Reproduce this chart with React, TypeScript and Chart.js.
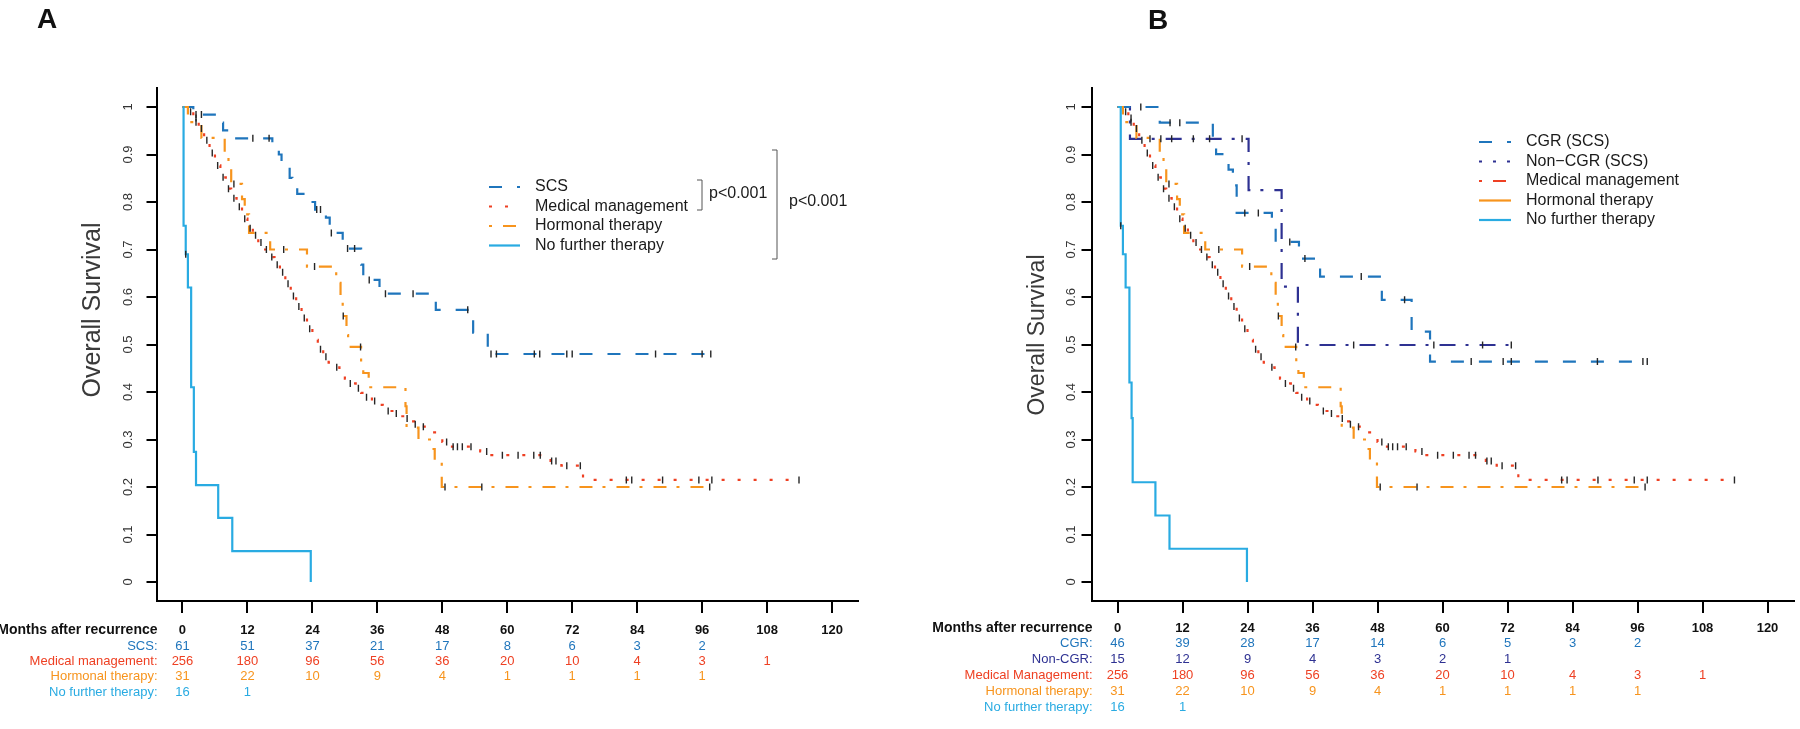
import React, { useEffect, useRef } from "react";
import { Chart, registerables } from "chart.js";

Chart.register(...registerables);

const FONT = '"Liberation Sans", Arial, Helvetica, sans-serif';

// ---------------- axes ----------------
const xTickValues = [0, 12, 24, 36, 48, 60, 72, 84, 96, 108, 120];
const xTickLabels = ["0", "12", "24", "36", "48", "60", "72", "84", "96", "108", "120"];
const yTickValues = [0, 0.1, 0.2, 0.3, 0.4, 0.5, 0.6, 0.7, 0.8, 0.9, 1];
const yTickLabels = ["0", "0.1", "0.2", "0.3", "0.4", "0.5", "0.6", "0.7", "0.8", "0.9", "1"];
const riskTimes = [0, 12, 24, 36, 48, 60, 72, 84, 96, 108];

// ---------------- Panel A : SCS ----------------
const scsTimes = [0, 2, 6.8, 7.5, 9.5, 16.6, 17.8, 18.3, 19.8, 20.3, 21.2, 23.5, 24.5, 26.5, 27.2, 29.6, 33, 33.4, 36.4, 46.8, 53.7, 56.4];
const scsSurv = [1, 0.984, 0.967, 0.951, 0.934, 0.917, 0.9, 0.884, 0.851, 0.834, 0.817, 0.8, 0.784, 0.767, 0.735, 0.702, 0.668, 0.636, 0.607, 0.573, 0.525, 0.48];
const scsLast = 97.8;
const scsCensored = [2.5, 3.5, 13, 16, 24.8, 25.5, 27.5, 30.5, 31.8, 34.5, 37.5, 42.6, 52.7, 57, 58, 65, 66, 71, 72, 87.4, 96, 97.6];

// ---------------- Medical management (both panels) ----------------
const medTimes = [0, 1, 2, 3, 4, 5, 6, 7, 8, 9, 10, 11, 12, 13, 14, 15, 16, 17, 18, 19, 20, 21, 22, 23, 24, 25, 26, 27, 28, 29, 30, 31, 32, 33, 34, 35, 36, 37, 38, 39, 40, 41, 42, 43, 44, 45, 46, 47, 48, 49, 55, 56.5, 68, 70, 74];
const medSurv = [1, 0.99, 0.977, 0.955, 0.93, 0.903, 0.877, 0.852, 0.828, 0.808, 0.79, 0.765, 0.745, 0.73, 0.715, 0.7, 0.684, 0.668, 0.652, 0.628, 0.602, 0.58, 0.556, 0.533, 0.51, 0.49, 0.474, 0.462, 0.452, 0.443, 0.428, 0.418, 0.408, 0.398, 0.389, 0.381, 0.373, 0.366, 0.36, 0.355, 0.349, 0.344, 0.338, 0.332, 0.327, 0.321, 0.315, 0.305, 0.295, 0.285, 0.275, 0.267, 0.255, 0.245, 0.215];
const medLast = 113.9;
const medCensored = [1.5, 2.5, 3.5, 4.5, 5.5, 6.5, 7.5, 8.5, 9.5, 10.5, 11.5, 12.5, 13.5, 14.5, 15.5, 16.5, 17.5, 18.5, 19.5, 20.5, 21.5, 22.5, 23.5, 25.5, 26.5, 28.5, 31, 32.5, 34, 35.5, 38, 39.5, 41.5, 43, 44.5, 48.8, 50, 50.8, 51.7, 53.3, 56.2, 59.1, 62, 64.9, 66.1, 68.2, 69, 71, 73.5, 82, 83, 88.7, 95.4, 97.8, 113.9];

// ---------------- Hormonal therapy (both panels) ----------------
const hormTimes = [0, 1, 3.5, 7.8, 8.5, 9, 11, 11.5, 12.3, 16.2, 23, 28.4, 29.2, 29.6, 30.3, 30.6, 33, 33.4, 34.4, 41.2, 41.4, 43.6, 46, 46.6, 47.9];
const hormSurv = [1, 0.968, 0.935, 0.903, 0.871, 0.838, 0.806, 0.774, 0.735, 0.7, 0.664, 0.63, 0.597, 0.56, 0.52, 0.495, 0.457, 0.44, 0.41, 0.37, 0.325, 0.3, 0.28, 0.255, 0.2];
const hormLast = 97.5;
const hormCensored = [2.5, 9.5, 18.7, 24.4, 29.7, 32.9, 48.5, 55.3, 97.4];

// ---------------- No further therapy ----------------
const noFurtherTimesA = [0, 0.2, 0.6, 1.0, 1.6, 2.1, 2.5, 6.6, 9.2, 23.7];
const noFurtherSurvA = [1, 0.75, 0.69, 0.62, 0.41, 0.274, 0.204, 0.135, 0.065, 0];
const noFurtherTimesB = [0, 0.6, 1.0, 1.5, 2.2, 2.6, 2.8, 7.0, 9.6, 23.9];
const noFurtherSurvB = [1, 0.75, 0.69, 0.62, 0.42, 0.345, 0.21, 0.14, 0.07, 0];
const noFurtherCensored = [0.6];

// ---------------- Panel B : CGR / Non-CGR ----------------
const cgrTimes = [0, 7.8, 17.6, 18.2, 20.5, 21.3, 22, 28.5, 29.2, 33.5, 37.4, 48.8, 54.3, 57.7];
const cgrSurv = [1, 0.967, 0.934, 0.901, 0.868, 0.835, 0.777, 0.745, 0.716, 0.681, 0.643, 0.594, 0.527, 0.464];
const cgrLast = 97.8;
const cgrCensored = [4.3, 9.7, 11.5, 23.5, 26, 31.8, 34.6, 45, 53, 65.3, 71.2, 72.7, 88.6, 97, 97.8];

const nonCgrTimes = [0, 2.3, 24.2, 30.3, 33.3];
const nonCgrSurv = [1, 0.933, 0.825, 0.622, 0.499];
const nonCgrLast = 72.8;
const nonCgrCensored = [6, 8, 10, 14, 17, 23, 43.6, 58.4, 67.4, 72.7];

// ---------------- numbers at risk ----------------
const riskScs = [61, 51, 37, 21, 17, 8, 6, 3, 2];
const riskMedical = [256, 180, 96, 56, 36, 20, 10, 4, 3, 1];
const riskHormonal = [31, 22, 10, 9, 4, 1, 1, 1, 1];
const riskNoFurther = [16, 1];
const riskCgr = [46, 39, 28, 17, 14, 6, 5, 3, 2];
const riskNonCgr = [15, 12, 9, 4, 3, 2, 1];

// ---------------- styles ----------------
const C_SCS = "#1f75bc";
const C_NONCGR = "#2e3192";
const C_MED = "#ee4023";
const C_HORM = "#f7941d";
const C_NOF = "#29abe2";
const C_CENSOR = "#262626";

const DASH_SCS = [13, 15];
const DOT = [3, 13];
const DASH_DOT = [13, 10, 3, 11];
const DASH_DOT_NAVY = [16, 10, 3, 11];
const SOLID: number[] = [];

function survAt(times: number[], surv: number[], t: number) {
  let s = surv[0];
  for (let i = 0; i < times.length; i++) if (times[i] <= t) s = surv[i];
  return s;
}

interface SeriesSpec {
  times: number[];
  surv: number[];
  last: number;
  censored: number[];
  color: string;
  dash: number[];
}

function buildDatasets(series: SeriesSpec[]) {
  const ds: any[] = [];
  series.forEach((s) => {
    const pts = s.times.map((t, i) => ({ x: t, y: s.surv[i] }));
    if (s.last > s.times[s.times.length - 1]) pts.push({ x: s.last, y: s.surv[s.surv.length - 1] });
    ds.push({
      data: pts,
      // horizontal first, then the drop at the event time (Kaplan-Meier step)
      stepped: "before",
      borderColor: s.color,
      borderWidth: 2.2,
      borderDash: s.dash,
      borderCapStyle: "butt",
      pointRadius: 0,
      fill: false,
      tension: 0,
      order: 1,
    });
  });
  series.forEach((s) => {
    ds.push({
      data: s.censored.map((t) => ({ x: t, y: survAt(s.times, s.surv, t) })),
      showLine: false,
      pointStyle: "line",
      pointRotation: 90,
      pointRadius: 3.5,
      pointBorderColor: C_CENSOR,
      pointBackgroundColor: C_CENSOR,
      pointBorderWidth: 1.4,
      order: 0,
    });
  });
  return ds;
}

interface PanelSpec {
  padLeft: number;
  padRight: number;
  letter: string;
  letterX: number;
  letterY: number;
  yLabelX: number;
  titleX: number;
  titleY: number;
  titleSize: number;
  xLabelY: number;
  riskRowsY: number[];
  risk: { label: string; color: string; values: number[] }[];
  legend: {
    x1: number;
    x2: number;
    textX: number;
    rowsY: number[];
    items: { text: string; color: string; dash: number[]; offset: number }[];
  };
  brackets: { x: number; y1: number; y2: number; textX: number; textY: number }[];
  series: SeriesSpec[];
}

const panelA: PanelSpec = {
  padLeft: 146.5,
  padRight: 42,
  letter: "A",
  letterX: 37,
  letterY: 28,
  yLabelX: 128,
  titleX: 93,
  titleY: 310,
  titleSize: 25,
  xLabelY: 630,
  riskRowsY: [646, 661, 676, 692],
  risk: [
    { label: "SCS:", color: C_SCS, values: riskScs },
    { label: "Medical management:", color: C_MED, values: riskMedical },
    { label: "Hormonal therapy:", color: C_HORM, values: riskHormonal },
    { label: "No further therapy:", color: C_NOF, values: riskNoFurther },
  ],
  legend: {
    x1: 489,
    x2: 520,
    textX: 535,
    rowsY: [187, 206.5, 226, 245.5],
    items: [
      { text: "SCS", color: C_SCS, dash: DASH_SCS, offset: 0 },
      { text: "Medical management", color: C_MED, dash: DOT, offset: 0 },
      { text: "Hormonal therapy", color: C_HORM, dash: DASH_DOT, offset: 23 },
      { text: "No further therapy", color: C_NOF, dash: SOLID, offset: 0 },
    ],
  },
  brackets: [
    { x: 702, y1: 180, y2: 210, textX: 709, textY: 194 },
    { x: 777, y1: 150, y2: 259, textX: 789, textY: 202 },
  ],
  series: [
    { times: noFurtherTimesA, surv: noFurtherSurvA, last: 23.7, censored: noFurtherCensored, color: C_NOF, dash: SOLID },
    { times: hormTimes, surv: hormSurv, last: hormLast, censored: hormCensored, color: C_HORM, dash: DASH_DOT },
    { times: medTimes, surv: medSurv, last: medLast, censored: medCensored, color: C_MED, dash: DOT },
    { times: scsTimes, surv: scsSurv, last: scsLast, censored: scsCensored, color: C_SCS, dash: DASH_SCS },
  ],
};

const panelB: PanelSpec = {
  padLeft: 181.5,
  padRight: 6.5,
  letter: "B",
  letterX: 248,
  letterY: 29,
  yLabelX: 171,
  titleX: 138,
  titleY: 335,
  titleSize: 23,
  xLabelY: 628,
  riskRowsY: [643.5, 659, 675, 691, 707],
  risk: [
    { label: "CGR:", color: C_SCS, values: riskCgr },
    { label: "Non-CGR:", color: C_NONCGR, values: riskNonCgr },
    { label: "Medical Management:", color: C_MED, values: riskMedical },
    { label: "Hormonal therapy:", color: C_HORM, values: riskHormonal },
    { label: "No further therapy:", color: C_NOF, values: riskNoFurther },
  ],
  legend: {
    x1: 579,
    x2: 611,
    textX: 626,
    rowsY: [142, 161.5, 181, 200.5, 220],
    items: [
      { text: "CGR (SCS)", color: C_SCS, dash: DASH_SCS, offset: 0 },
      { text: "Non\u2212CGR (SCS)", color: C_NONCGR, dash: [3, 11], offset: 0 },
      { text: "Medical management", color: C_MED, dash: DASH_DOT, offset: 23 },
      { text: "Hormonal therapy", color: C_HORM, dash: SOLID, offset: 0 },
      { text: "No further therapy", color: C_NOF, dash: SOLID, offset: 0 },
    ],
  },
  brackets: [],
  series: [
    { times: noFurtherTimesB, surv: noFurtherSurvB, last: 23.9, censored: noFurtherCensored, color: C_NOF, dash: SOLID },
    { times: hormTimes, surv: hormSurv, last: hormLast, censored: hormCensored, color: C_HORM, dash: DASH_DOT },
    { times: medTimes, surv: medSurv, last: medLast, censored: medCensored, color: C_MED, dash: DOT },
    { times: cgrTimes, surv: cgrSurv, last: cgrLast, censored: cgrCensored, color: C_SCS, dash: DASH_SCS },
    { times: nonCgrTimes, surv: nonCgrSurv, last: nonCgrLast, censored: nonCgrCensored, color: C_NONCGR, dash: DASH_DOT_NAVY },
  ],
};

function overlayPlugin(spec: PanelSpec) {
  return {
    id: "kmOverlay",
    afterDraw(chart: any) {
      const ctx: CanvasRenderingContext2D = chart.ctx;
      const xs = chart.scales.x;
      const ys = chart.scales.y;
      const axisX = chart.chartArea.left;
      const put = (txt: string, x: number, y: number, font: string, color: string, align: CanvasTextAlign = "center", baseline: CanvasTextBaseline = "middle") => {
        ctx.font = font;
        ctx.fillStyle = color;
        ctx.textAlign = align;
        ctx.textBaseline = baseline;
        ctx.fillText(txt, x, y);
      };
      const putRot = (txt: string, x: number, y: number, font: string, color: string) => {
        ctx.save();
        ctx.translate(x, y);
        ctx.rotate(-Math.PI / 2);
        put(txt, 0, 0, font, color);
        ctx.restore();
      };
      ctx.save();
      put(spec.letter, spec.letterX, spec.letterY, `bold 28px ${FONT}`, "#111", "left", "alphabetic");
      yTickValues.forEach((v, i) => putRot(yTickLabels[i], spec.yLabelX, ys.getPixelForValue(v), `13px ${FONT}`, "#333"));
      putRot("Overall Survival", spec.titleX, spec.titleY, `${spec.titleSize}px ${FONT}`, "#3a3a3a");
      xTickValues.forEach((v, i) => put(xTickLabels[i], xs.getPixelForValue(v), spec.xLabelY, `bold 13px ${FONT}`, "#111"));
      put("Months after recurrence", axisX + 1, spec.xLabelY, `bold 14px ${FONT}`, "#111", "right");
      spec.risk.forEach((row, r) => {
        const y = spec.riskRowsY[r];
        put(row.label, axisX + 1, y, `13px ${FONT}`, row.color, "right");
        row.values.forEach((n, k) => put(String(n), xs.getPixelForValue(riskTimes[k]), y, `13px ${FONT}`, row.color));
      });
      const lg = spec.legend;
      lg.items.forEach((it, k) => {
        const y = lg.rowsY[k];
        ctx.save();
        ctx.strokeStyle = it.color;
        ctx.lineWidth = 2.2;
        ctx.setLineDash(it.dash);
        ctx.lineDashOffset = it.offset;
        ctx.beginPath();
        ctx.moveTo(lg.x1, y);
        ctx.lineTo(lg.x2, y);
        ctx.stroke();
        ctx.restore();
        put(it.text, lg.textX, y, `16px ${FONT}`, "#1a1a1a", "left");
      });
      spec.brackets.forEach((b) => {
        ctx.save();
        ctx.strokeStyle = "#555";
        ctx.lineWidth = 1;
        ctx.beginPath();
        ctx.moveTo(b.x - 5, b.y1);
        ctx.lineTo(b.x, b.y1);
        ctx.lineTo(b.x, b.y2);
        ctx.lineTo(b.x - 5, b.y2);
        ctx.stroke();
        ctx.restore();
        put("p<0.001", b.textX, b.textY, `16px ${FONT}`, "#1a1a1a", "left");
      });
      ctx.restore();
    },
  };
}

function Panel({ spec, left }: { spec: PanelSpec; left: number }) {
  const ref = useRef<HTMLCanvasElement | null>(null);
  useEffect(() => {
    if (!ref.current) return;
    const axisGrid = (len: number) => ({
      display: true,
      drawOnChartArea: false,
      drawTicks: true,
      tickLength: len,
      tickWidth: 2,
      tickColor: "#000",
      color: "#000",
      lineWidth: 2,
    });
    const chart = new Chart(ref.current, {
      type: "line",
      data: { datasets: buildDatasets(spec.series) },
      options: {
        animation: false,
        responsive: false,
        devicePixelRatio: 1,
        layout: { padding: { left: spec.padLeft, right: spec.padRight, top: 88, bottom: 116 } },
        plugins: { legend: { display: false }, tooltip: { enabled: false }, title: { display: false } },
        scales: {
          x: {
            type: "linear",
            min: -4.8,
            max: 124.8,
            afterBuildTicks: (s: any) => {
              s.ticks = xTickValues.map((v) => ({ value: v }));
            },
            ticks: { display: false },
            grid: axisGrid(12),
            border: { display: true, color: "#000", width: 2 },
          },
          y: {
            type: "linear",
            min: -0.04,
            max: 1.04,
            afterBuildTicks: (s: any) => {
              s.ticks = yTickValues.map((v) => ({ value: v }));
            },
            ticks: { display: false },
            grid: axisGrid(10),
            border: { display: true, color: "#000", width: 2 },
          },
        },
      } as any,
      plugins: [overlayPlugin(spec)],
    });
    return () => chart.destroy();
  }, [spec]);
  return (
    <canvas
      ref={ref}
      width={900}
      height={729}
      style={{ position: "absolute", left, top: 0, width: 900, height: 729, display: "block" }}
    />
  );
}

export default function App() {
  return (
    <div style={{ position: "fixed", left: 0, top: 0, width: 1800, height: 729, background: "#fff", overflow: "hidden" }}>
      <Panel spec={panelA} left={0} />
      <Panel spec={panelB} left={900} />
    </div>
  );
}
